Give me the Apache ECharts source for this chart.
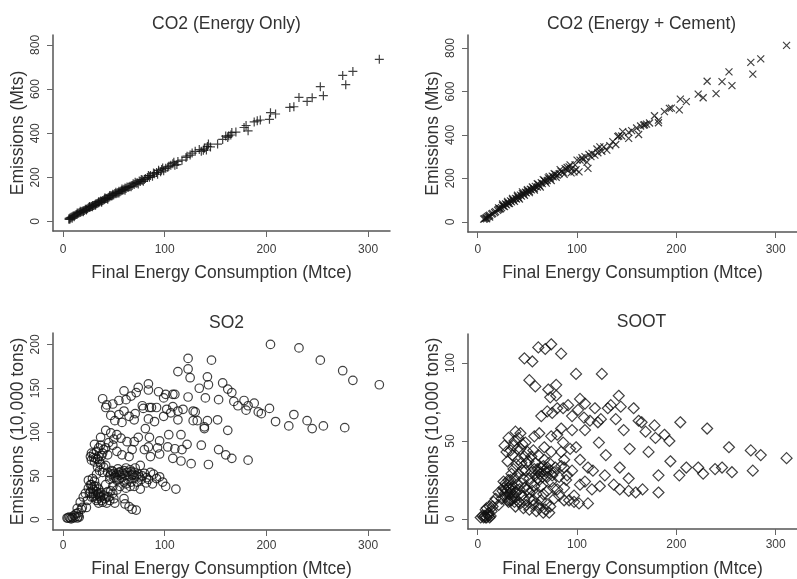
<!DOCTYPE html>
<html><head><meta charset="utf-8">
<style>html,body{margin:0;padding:0;background:#fff}#c{width:797px;height:579px;filter:blur(0.45px)}</style>
<script src="https://cdn.jsdelivr.net/npm/echarts@6/dist/echarts.min.js"></script>
</head><body><div id="c"></div>
<script>
const xTicks = [0,100,200,300];
const co2Ticks = [0,200,400,600,800];
const so2Ticks = [0,50,100,150,200];
const sootTicks = [0,50,100];
const titles = ['CO2 (Energy Only)','CO2 (Energy + Cement)','SO2','SOOT'];
const xName = 'Final Energy Consumption (Mtce)';
const yNames = ['Emissions (Mts)','Emissions (Mts)','Emissions (10,000 tons)','Emissions (10,000 tons)'];

const co2Energy = [[311,735],[285,680],[278,620],[275,662],[253,611],[256,570],[245,561],[240,544],[232,562],[227,520],[223,517],[209,487],[204,493],[203,463],[194,460],[191,456],[188,451],[182,411],[180,435],[178,426],[170,405],[165,392],[166,403],[162,381],[160,387],[157,372],[163,388],[152,351],[143,351],[142,340],[141,324],[138,323],[134,326],[139,332],[130,318],[125,301],[122,296],[117,278],[113,272],[110,255],[109,268],[106,255],[104,250],[101,241],[99,230],[98,242],[96,225],[94,232],[92,222],[90,216],[88,205],[86,208],[85,200],[83,199],[81,195],[80,190],[78,188],[76,181],[75,184],[73,176],[72,173],[70,168],[69,171],[68,163],[66,160],[65,157],[64,154],[62,150],[61,152],[60,146],[59,143],[58,141],[57,138],[56,135],[55,137],[54,130],[53,128],[52,126],[51,127],[50,121],[49,119],[48,116],[47,117],[46,112],[45,110],[44,107],[43,104],[42,105],[41,100],[40,97],[39,95],[38,92],[37,93],[36,88],[35,85],[34,83],[33,80],[32,79],[31,75],[30,73],[29,72],[28,68],[27,66],[26,63],[25,62],[24,58],[23,56],[22,55],[21,50],[20,49],[19,46],[18,44],[17,41],[16,40],[15,37],[14,33],[13,32],[12,28],[11,26],[10,25],[9,21],[8,19],[7,17],[6,14],[6,9],[7,11],[9,15],
[97,236],[93,214],[89,220],[84,208],[79,182],[77,190],[74,170],[71,178],[67,158],[63,156],[61,142],[58,147],[55,129],[52,132],[49,124],[46,118],[44,101],[41,106],[38,87],[35,90],[32,74],[29,67],[26,68],[23,52],[20,44],[17,46],[14,38],[11,22],[103,246],[108,262],[112,258],[121,290],[127,310],[136,318],[145,338]];

const co2Cement = [[311,812],[285,750],[275,734],[277,680],[253,690],[256,627],[246,645],[240,590],[231,647],[222,588],[227,571],[210,553],[204,565],[203,515],[195,523],[193,522],[188,507],[182,468],[182,456],[178,488],[173,455],[168,447],[167,445],[164,441],[162,402],[160,432],[152,384],[152,412],[146,415],[141,392],[139,356],[136,369],[142,395],[130,330],[127,345],[123,345],[120,335],[118,307],[115,315],[112,310],[111,246],[108,300],[106,285],[103,284],[102,230],[100,284],[97,230],[98,262],[95,246],[93,262],[92,253],[90,238],[88,245],[86,228],[84,232],[82,222],[80,215],[78,218],[76,207],[75,210],[73,198],[71,202],[70,190],[68,185],[67,190],[65,176],[64,180],[62,168],[61,172],[60,160],[58,163],[57,152],[56,155],[54,147],[53,150],[52,140],[50,143],[49,133],[48,136],[46,128],[45,130],[44,118],[43,123],[41,112],[40,116],[39,105],[38,108],[36,99],[35,102],[34,92],[33,96],[31,85],[30,88],[29,78],[28,82],[26,72],[25,75],[24,65],[22,60],[21,57],[20,53],[18,47],[17,43],[15,38],[14,35],[12,30],[11,27],[10,24],[9,20],[8,17],[7,14],[9,14],[12,22],[6,12],
[99,240],[94,225],[90,250],[87,218],[83,240],[79,205],[77,222],[74,190],[72,208],[69,178],[66,194],[63,160],[60,175],[57,146],[55,160],[52,134],[50,148],[47,122],[45,138],[42,105],[40,122],[37,94],[35,108],[32,84],[30,94],[27,70],[25,82],[23,60],[21,64],[105,295],[110,275],[114,300],[121,318],[125,325],[133,350],[145,395],[155,420],[170,450]];

const so2 = [[204,200],[232,196],[253,182],[275,170],[285,159],[311,154],[123,184],[146,182],[123,172],[113,169],[125,162],[142,163],[143,154],[134,150],[157,156],[162,149],[166,145],[153,137],[140,139],[123,140],[168,135],[172,130],[178,136],[188,133],[182,130],[180,125],[192,123],[195,121],[203,127],[209,112],[222,107],[227,120],[240,113],[245,104],[256,107],[277,105],[162,102],[152,114],[142,113],[139,106],[139,104],[130,123],[128,124],[128,113],[132,113],[113,114],[118,126],[113,124],[108,129],[106,122],[102,126],[108,143],[110,143],[99,139],[101,143],[94,146],[84,155],[84,148],[74,151],[72,145],[67,141],[62,137],[60,147],[55,136],[49,132],[43,131],[39,138],[42,128],[47,119],[55,120],[51,113],[58,111],[60,124],[65,118],[70,114],[71,121],[78,130],[79,127],[85,128],[87,128],[92,128],[84,115],[90,112],[99,118],[81,104],[42,102],[47,99],[53,97],[57,93],[37,94],[74,94],[85,94],[95,90],[104,97],[116,97],[70,89],[63,89],[50,92],[42,82],[31,86],[37,85],[49,85],[80,80],[84,83],[93,82],[103,83],[110,81],[122,86],[136,85],[117,80],[153,80],[160,74],[166,70],[182,68],[143,63],[126,64],[116,67],[108,70],[95,75],[86,72],[44,74],[53,78],[58,74],[65,72],[68,80],[28,76],[30,71],[34,69],[37,63],[33,78],[40,80],[27,72],[44,54],[50,53],[55,54],[60,56],[66,57],[71,59],[76,62],[61,51],[68,51],[74,52],[80,53],[86,54],[89,52],[95,49],[98,43],[101,38],[111,35],[88,41],[82,42],[76,35],[70,38],[66,38],[60,43],[53,45],[49,38],[53,34],[49,30],[45,26],[37,26],[33,38],[29,47],[25,45],[30,34],[27,32],[22,30],[20,26],[17,20],[23,14],[14,13],[35,19],[43,19],[51,19],[60,24],[61,18],[65,15],[68,12],[72,11],[40,60],[36,56],[33,52],[46,50],[52,48],[58,48],[64,46],[70,48],[77,46],[84,46],[92,47],[48,56],[54,58],[62,59],[70,54],[28,40],[31,44],[35,30],[38,22],[41,24],[47,33],[56,38],[62,36],[32,28],[28,26],[25,36],[34,24],[44,32],[50,24],[42,40],[24,22],[19,14],[4,2],[5,2],[6,3],[7,2],[8,1],[9,3],[10,2],[11,5],[12,3],[13,7],[14,2],[15,4],[16,3],
[29,36],[30,30],[31,38],[33,32],[34,29],[35,35],[36,27],[27,40],[26,30],[30,26],[33,22],[37,31],[40,28],[43,26],[46,22],[39,20],[47,52],[49,55],[51,50],[53,52],[56,51],[57,55],[59,53],[63,54],[65,50],[67,55],[69,52],[72,50],[75,49],[78,50],[82,48],[46,46],[50,48],[55,46],[62,41],[67,43],[73,43],[30,75],[32,70],[35,72],[36,66],[38,73],[31,66],[34,60],[39,54],[42,62],[35,82],[39,76],[45,88],[28,68],[15,8],[18,12]];

const soot = [[74,112],[61,110],[68,109],[84,106],[47,103],[55,101],[99,93],[125,93],[52,89],[58,85],[79,86],[71,83],[73,78],[79,79],[142,79],[103,77],[108,74],[91,73],[86,71],[80,71],[64,66],[70,69],[75,68],[101,70],[95,66],[107,65],[118,71],[131,71],[134,73],[144,72],[157,71],[139,64],[124,64],[121,62],[113,63],[162,63],[165,62],[204,62],[178,60],[147,57],[108,57],[169,56],[231,58],[188,54],[179,52],[193,50],[122,49],[153,45],[129,41],[172,43],[253,46],[275,44],[285,41],[311,39],[277,31],[256,30],[246,33],[239,32],[227,29],[222,33],[210,33],[203,28],[194,37],[182,28],[182,17],[166,19],[159,17],[152,18],[152,26],[143,33],[143,19],[137,22],[128,28],[123,21],[115,19],[111,10],[103,22],[108,24],[116,31],[111,33],[103,38],[99,46],[93,45],[84,43],[74,43],[86,49],[80,54],[95,57],[84,58],[74,53],[62,55],[57,53],[43,55],[38,56],[31,52],[27,47],[36,47],[48,49],[67,46],[61,41],[67,38],[57,32],[49,36],[41,38],[30,37],[36,32],[95,31],[87,38],[87,33],[89,25],[87,20],[77,30],[69,30],[61,30],[54,30],[46,26],[54,23],[64,21],[74,24],[80,19],[87,12],[92,12],[97,11],[102,10],[97,15],[77,13],[72,4],[66,4],[59,5],[52,6],[46,7],[38,8],[31,11],[26,24],[28,19],[33,19],[38,17],[44,15],[52,13],[59,16],[21,17],[18,13],[15,8],[8,6],[11,2],[8,1],[3,1],[7,2],[11,4],[16,11],[25,18],[33,17],[30,22],[27,16],[35,14],[32,12],[41,11],[47,12],[56,9],[62,7],[68,6],[40,22],[47,20],[55,18],[62,25],[70,27],[78,33],[66,34],[58,28],[50,43],[43,45],[56,44],[63,33],[72,36],[82,27],[45,31],[39,35],[35,41],[33,25],[24,13],[21,9],[5,2],[6,1],[9,1],[10,3],[12,1],[13,2],[9,7],[12,8],[14,5],
[29,18],[31,20],[32,16],[34,22],[36,19],[28,14],[30,12],[34,12],[37,14],[39,17],[42,19],[44,23],[26,20],[28,23],[31,25],[34,29],[37,26],[41,29],[44,36],[47,40],[51,37],[54,40],[58,36],[60,32],[63,29],[65,27],[67,31],[70,33],[73,31],[75,28],[60,26],[57,21],[52,26],[50,19],[48,31],[64,12],[69,10],[73,8],[56,12],[49,9],[43,10],[37,11],[66,16],[61,9],[52,17],[76,20],[70,18],[82,15],[90,28],[84,34],[40,45],[37,50],[45,48],[33,44],[41,52],[29,43]];

const CROSS = 'path://M0 5L10 5M5 0L5 10';
const XMARK = 'path://M0 0L10 10M0 10L10 0';
const panels = [
 {left:53,top:35,w:337,h:196,ymin:-43,ymax:845,ticks:co2Ticks,data:co2Energy,symbol:CROSS,size:9,gap:33,xlm:13,ty:10},
 {left:468,top:35,w:337,h:197,ymin:-47,ymax:860,ticks:co2Ticks,data:co2Cement,symbol:XMARK,size:7,gap:32,xlm:12,ty:10},
 {left:53,top:333,w:337,h:197,ymin:-11.7,ymax:213,ticks:so2Ticks,data:so2,symbol:'circle',size:8.5,gap:30,xlm:10,ty:309},
 {left:468,top:334,w:337,h:196,ymin:-6.4,ymax:118.6,ticks:sootTicks,data:soot,symbol:'diamond',size:11,gap:31,xlm:10,ty:308}
];
const ink = '#333';
const grid=[],xAxis=[],yAxis=[],series=[],title=[];
panels.forEach((p,i)=>{
  grid.push({left:p.left,top:p.top,width:p.w,height:p.h,containLabel:false});
  title.push({text:titles[i],left:p.left+p.w/2,top:p.ty,textAlign:'center',
    textStyle:{fontFamily:'Liberation Sans',fontSize:17.5,fontWeight:'normal',color:ink}});
  const line={show:true,onZero:false,lineStyle:{color:'#555',width:1.5}};
  const tick={show:true,length:6,lineStyle:{color:'#666',width:1}};
  const lab={fontFamily:'Liberation Sans',fontSize:12,color:'#3c3c3c'};
  xAxis.push({type:'value',gridIndex:i,min:-9.8,max:321.5,splitLine:{show:false},
    name:xName,nameLocation:'middle',nameGap:p.gap,
    nameTextStyle:{fontFamily:'Liberation Sans',fontSize:17.5,color:ink},
    axisLine:line,axisTick:Object.assign({},tick,{customValues:xTicks}),
    axisLabel:Object.assign({},lab,{customValues:xTicks,margin:p.xlm,hideOverlap:false})});
  yAxis.push({type:'value',gridIndex:i,min:p.ymin,max:p.ymax,splitLine:{show:false},
    name:yNames[i],nameLocation:'middle',nameGap:26,
    nameTextStyle:{fontFamily:'Liberation Sans',fontSize:17.5,color:ink},
    axisLine:line,axisTick:Object.assign({},tick,{customValues:p.ticks}),
    axisLabel:Object.assign({},lab,{customValues:p.ticks,rotate:90,margin:11,hideOverlap:false})});
  series.push({type:'scatter',xAxisIndex:i,yAxisIndex:i,data:p.data,symbol:p.symbol,symbolSize:p.size,
    silent:true,animation:false,clip:false,
    itemStyle:{color:'rgba(0,0,0,0)',borderColor:'#111',borderWidth:1.2,opacity:0.8}});
});
const chart=echarts.init(document.getElementById('c'),null,{renderer:'canvas'});
chart.setOption({animation:false,backgroundColor:'#fff',title,grid,xAxis,yAxis,series});
</script></body></html>
